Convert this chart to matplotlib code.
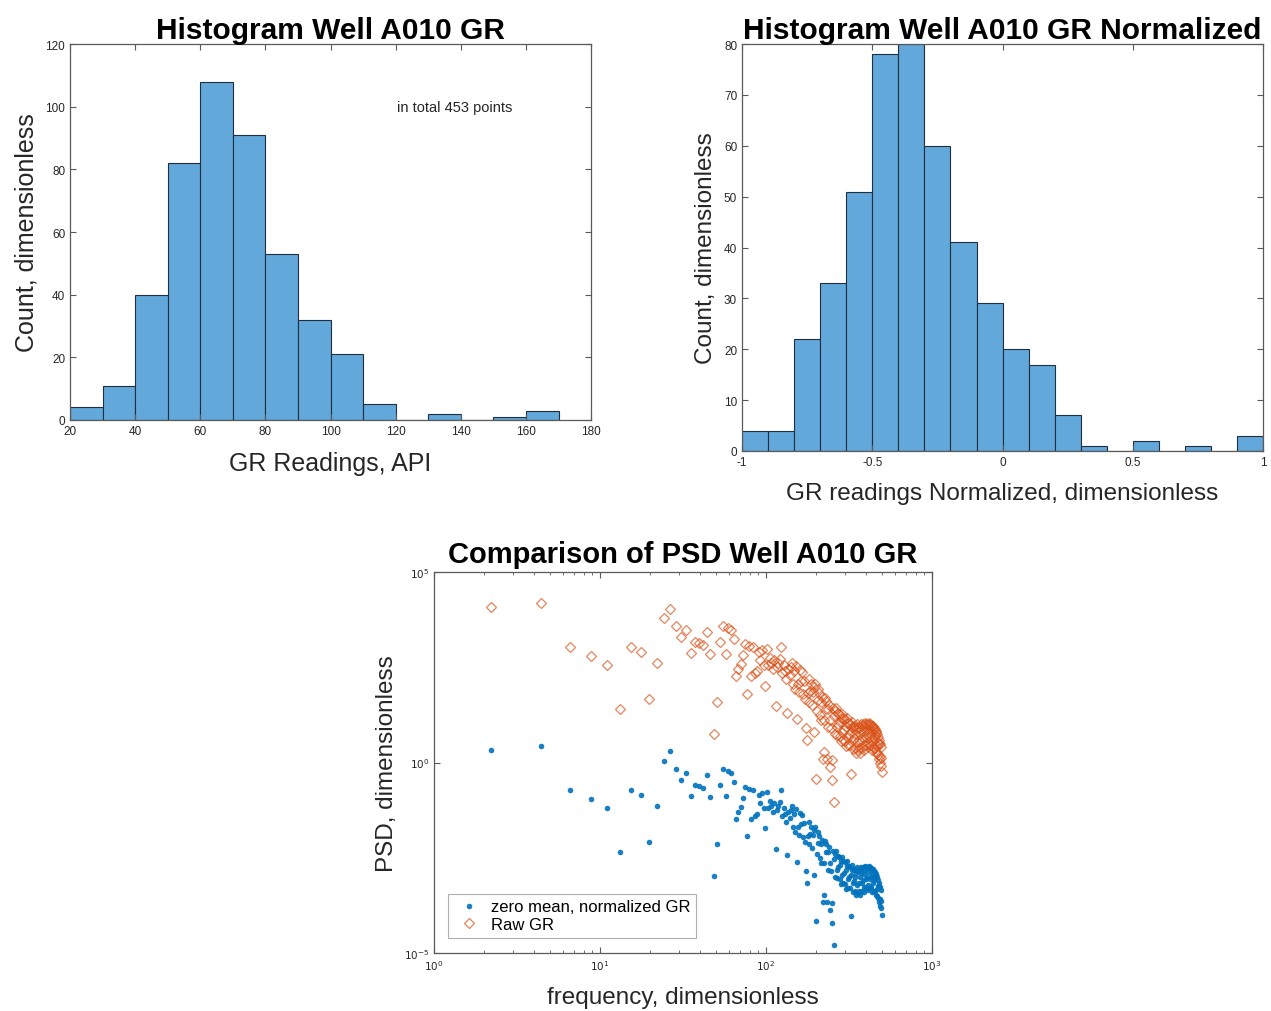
import numpy as np
import matplotlib
matplotlib.use("Agg")
import matplotlib.pyplot as plt
from matplotlib.ticker import FixedLocator, LogLocator, NullFormatter, FuncFormatter

plt.rcParams['font.family'] = ['Liberation Sans', 'DejaVu Sans']

# ---------------- data ----------------
# Histogram 1 : raw GR (API)
gr_bin_edges = [20, 30, 40, 50, 60, 70, 80, 90, 100, 110, 120, 130, 140, 150, 160, 170]
gr_counts = [4, 11, 40, 82, 108, 91, 53, 32, 21, 5, 0, 2, 0, 1, 3]

# Histogram 2 : normalized GR
grn_bin_edges = [-1.0, -0.9, -0.8, -0.7, -0.6, -0.5, -0.4, -0.3, -0.2, -0.1, 0.0,
                 0.1, 0.2, 0.3, 0.4, 0.5, 0.6, 0.7, 0.8, 0.9, 1.0]
grn_counts = [4, 4, 22, 33, 51, 78, 80, 60, 41, 29, 20, 17, 7, 1, 0, 2, 0, 1, 0, 3]

# PSD : frequency bins
freq = [2.2, 4.4, 6.6, 8.8, 11.0, 13.2, 15.4, 17.6, 19.8, 22.0,
        24.2, 26.4, 28.6, 30.8, 33.0, 35.2, 37.4, 39.6, 41.8, 44.0,
        46.2, 48.4, 50.6, 52.8, 55.0, 57.2, 59.4, 61.6, 63.8, 66.0,
        68.2, 70.4, 72.6, 74.8, 77.0, 79.2, 81.4, 83.6, 85.8, 88.0,
        90.2, 92.4, 94.6, 96.8, 99.0, 101.2, 103.4, 105.6, 107.8, 110.0,
        112.2, 114.4, 116.6, 118.8, 121.0, 123.2, 125.4, 127.6, 129.8, 132.0,
        134.2, 136.4, 138.6, 140.8, 143.0, 145.2, 147.4, 149.6, 151.8, 154.0,
        156.2, 158.4, 160.6, 162.8, 165.0, 167.2, 169.4, 171.6, 173.8, 176.0,
        178.2, 180.4, 182.6, 184.8, 187.0, 189.2, 191.4, 193.6, 195.8, 198.0,
        200.2, 202.4, 204.6, 206.8, 209.0, 211.2, 213.4, 215.6, 217.8, 220.0,
        222.2, 224.4, 226.6, 228.8, 231.0, 233.2, 235.4, 237.6, 239.8, 242.0,
        244.2, 246.4, 248.6, 250.8, 253.0, 255.2, 257.4, 259.6, 261.8, 264.0,
        266.2, 268.4, 270.6, 272.8, 275.0, 277.2, 279.4, 281.6, 283.8, 286.0,
        288.2, 290.4, 292.6, 294.8, 297.0, 299.2, 301.4, 303.6, 305.8, 308.0,
        310.2, 312.4, 314.6, 316.8, 319.0, 321.2, 323.4, 325.6, 327.8, 330.0,
        332.2, 334.4, 336.6, 338.8, 341.0, 343.2, 345.4, 347.6, 349.8, 352.0,
        354.2, 356.4, 358.6, 360.8, 363.0, 365.2, 367.4, 369.6, 371.8, 374.0,
        376.2, 378.4, 380.6, 382.8, 385.0, 387.2, 389.4, 391.6, 393.8, 396.0,
        398.2, 400.4, 402.6, 404.8, 407.0, 409.2, 411.4, 413.6, 415.8, 418.0,
        420.2, 422.4, 424.6, 426.8, 429.0, 431.2, 433.4, 435.6, 437.8, 440.0,
        442.2, 444.4, 446.6, 448.8, 451.0, 453.2, 455.4, 457.6, 459.8, 462.0,
        464.2, 466.4, 468.6, 470.8, 473.0, 475.2, 477.4, 479.6, 481.8, 484.0,
        486.2, 488.4, 490.6, 492.8, 495.0, 497.2]

# PSD of raw GR, log10 values
psd_raw_log10 = [4.07, 4.19, 3.03, 2.80, 2.56, 1.40, 3.04, 2.91, 1.66, 2.60,
                 3.80, 4.04, 3.57, 3.30, 3.47, 2.87, 3.17, 3.13, 3.08, 3.42,
                 2.85, 0.76, 1.60, 3.16, 3.59, 2.86, 3.54, 3.48, 3.25, 2.28,
                 2.46, 2.59, 2.81, 3.12, 1.81, 3.05, 2.27, 3.03, 2.35, 2.40,
                 2.90, 2.70, 2.94, 2.55, 2.02, 2.98, 2.55, 2.75, 2.60, 2.45,
                 2.68, 1.47, 2.50, 2.62, 2.72, 3.03, 2.35, 2.55, 2.40, 2.20,
                 1.31, 2.45, 2.30, 2.51, 2.62, 2.05, 2.40, 1.92, 2.52, 1.15,
                 2.07, 1.85, 2.43, 2.13, 2.37, 1.80, 2.15, 1.67, 0.90, 0.60,
                 1.82, 1.60, 2.18, 1.88, 2.07, 1.50, 1.85, 0.80, 1.97, 2.05,
                 -0.42, 1.35, 1.93, 1.63, 1.82, 1.25, 1.60, 1.12, 1.72, 0.09,
                 0.28, 1.12, 1.70, 1.40, 1.62, 0.10, 1.40, 0.92, 1.52, -0.12,
                 1.12, 0.90, 0.06, -0.46, 1.44, -1.03, 1.22, 0.74, 1.34, 1.42,
                 0.94, 0.72, 1.30, 1.00, 1.27, 0.70, 1.05, 0.57, 1.17, 1.28,
                 0.80, 0.58, 1.16, 0.86, 1.14, 0.57, 0.92, 0.44, 1.04, 1.16,
                 0.68, 0.46, 1.04, 0.74, 1.02, 0.45, 0.80, -0.29, 0.92, 1.06,
                 0.58, 0.36, 0.94, 0.64, 0.96, 0.39, 0.74, 0.26, 0.86, 1.00,
                 0.54, 0.32, 0.90, 0.60, 0.94, 0.39, 0.74, 0.26, 0.86, 1.02,
                 0.60, 0.38, 0.96, 0.66, 1.00, 0.47, 0.82, 0.34, 0.94, 1.04,
                 0.68, 0.46, 1.02, 0.74, 1.02, 0.53, 0.88, 0.40, 0.98, 1.04,
                 0.68, 0.46, 1.00, 0.74, 0.98, 0.47, 0.82, 0.34, 0.94, 0.96,
                 0.60, 0.38, 0.90, 0.66, 0.88, 0.37, 0.72, 0.28, 0.80, 0.82,
                 0.44, 0.24, 0.74, 0.50, 0.66, 0.20, 0.50, 0.10, 0.58, 0.48,
                 0.16, -0.02, 0.40, 0.12, -0.08, -0.25]

# PSD of zero-mean normalized GR, log10 values
psd_norm_log10 = [0.32, 0.44, -0.72, -0.95, -1.19, -2.35, -0.71, -0.84, -2.09, -1.15,
                  0.05, 0.29, -0.18, -0.45, -0.28, -0.88, -0.58, -0.62, -0.67, -0.33,
                  -0.90, -2.99, -2.15, -0.59, -0.16, -0.89, -0.21, -0.27, -0.50, -1.47,
                  -1.29, -1.16, -0.94, -0.63, -1.94, -0.70, -1.48, -0.72, -1.40, -1.35,
                  -0.85, -1.05, -0.81, -1.20, -1.73, -0.77, -1.20, -1.00, -1.15, -1.30,
                  -1.07, -2.28, -1.25, -1.13, -1.03, -0.72, -1.40, -1.20, -1.35, -1.55,
                  -2.44, -1.30, -1.45, -1.24, -1.13, -1.70, -1.35, -1.83, -1.23, -2.60,
                  -1.68, -1.90, -1.32, -1.62, -1.38, -1.95, -1.60, -2.08, -2.85, -3.15,
                  -1.93, -2.15, -1.57, -1.87, -1.68, -2.25, -1.90, -2.95, -1.78, -1.70,
                  -4.17, -2.40, -1.82, -2.12, -1.93, -2.50, -2.15, -2.63, -2.03, -3.66,
                  -3.47, -2.63, -2.05, -2.35, -2.13, -3.65, -2.35, -2.83, -2.23, -3.87,
                  -2.63, -2.85, -3.69, -4.21, -2.31, -4.78, -2.53, -3.01, -2.41, -2.33,
                  -2.81, -3.03, -2.45, -2.75, -2.48, -3.05, -2.70, -3.18, -2.58, -2.47,
                  -2.95, -3.17, -2.59, -2.89, -2.61, -3.18, -2.83, -3.31, -2.71, -2.59,
                  -3.07, -3.29, -2.71, -3.01, -2.73, -3.30, -2.95, -4.04, -2.83, -2.69,
                  -3.17, -3.39, -2.81, -3.11, -2.79, -3.36, -3.01, -3.49, -2.89, -2.75,
                  -3.21, -3.43, -2.85, -3.15, -2.81, -3.36, -3.01, -3.49, -2.89, -2.73,
                  -3.15, -3.37, -2.79, -3.09, -2.75, -3.28, -2.93, -3.41, -2.81, -2.71,
                  -3.07, -3.29, -2.73, -3.01, -2.73, -3.22, -2.87, -3.35, -2.77, -2.71,
                  -3.07, -3.29, -2.75, -3.01, -2.77, -3.28, -2.93, -3.41, -2.81, -2.79,
                  -3.15, -3.37, -2.85, -3.09, -2.87, -3.38, -3.03, -3.47, -2.95, -2.93,
                  -3.31, -3.51, -3.01, -3.25, -3.09, -3.55, -3.25, -3.65, -3.17, -3.27,
                  -3.59, -3.77, -3.35, -3.63, -3.83, -4.00]

# ---------------- styling ----------------
BAR_FACE = '#62A8DA'
BAR_EDGE = '#1f2f3f'
BLUE = '#0072BD'
ORANGE = '#D95319'
AX_COL = '#5a5a5a'
TXT = '#262626'


def style_axes(ax):
    for s in ax.spines.values():
        s.set_color(AX_COL)
        s.set_linewidth(0.9)
    ax.tick_params(which='both', direction='in', top=True, right=True,
                   colors=AX_COL, labelcolor=TXT, labelsize=8.5)
    ax.tick_params(which='major', length=4)
    ax.tick_params(which='minor', length=2.2)


fig = plt.figure(figsize=(12.71, 10.12), dpi=100)

TITLE_FS = 21.5
LABEL_FS = 17.5

# ---- Histogram 1 ----
ax1 = fig.add_axes([0.0551, 0.584, 0.410, 0.3715])
ax1.bar(gr_bin_edges[:-1], gr_counts, width=np.diff(gr_bin_edges), align='edge',
        color=BAR_FACE, edgecolor=BAR_EDGE, linewidth=0.8)
ax1.set_xlim(20, 180)
ax1.set_ylim(0, 120)
ax1.set_xticks([20, 40, 60, 80, 100, 120, 140, 160, 180])
ax1.set_yticks([0, 20, 40, 60, 80, 100, 120])
style_axes(ax1)
ax1.set_title('Histogram Well A010 GR', fontsize=TITLE_FS, fontweight='bold', color='black', pad=4)
ax1.set_xlabel('GR Readings, API', fontsize=18, color=TXT, labelpad=10)
ax1.set_ylabel('Count, dimensionless', fontsize=18, color=TXT, labelpad=5)
ax1.text(120.5, 100, 'in total 453 points', fontsize=10.5, color=TXT, va='center', ha='left')

# ---- Histogram 2 ----
ax2 = fig.add_axes([0.5838, 0.5534, 0.410, 0.402])
ax2.bar(grn_bin_edges[:-1], grn_counts, width=np.diff(grn_bin_edges), align='edge',
        color=BAR_FACE, edgecolor=BAR_EDGE, linewidth=0.8)
ax2.set_xlim(-1, 1)
ax2.set_ylim(0, 80)
ax2.set_xticks([-1, -0.5, 0, 0.5, 1])
ax2.set_xticklabels(['-1', '-0.5', '0', '0.5', '1'])
ax2.set_yticks([0, 10, 20, 30, 40, 50, 60, 70, 80])
style_axes(ax2)
ax2.set_title('Histogram Well A010 GR Normalized', fontsize=TITLE_FS, fontweight='bold',
              color='black', pad=3)
ax2.set_xlabel('GR readings Normalized, dimensionless', fontsize=LABEL_FS, color=TXT, labelpad=10)
ax2.set_ylabel('Count, dimensionless', fontsize=LABEL_FS, color=TXT, labelpad=5)

# ---- PSD comparison ----
ax3 = fig.add_axes([0.3415, 0.0573, 0.3918, 0.3765])
f = np.array(freq)
ax3.loglog(f, 10 ** np.array(psd_norm_log10), linestyle='none', marker='o',
           markersize=4.0, color=BLUE, markeredgewidth=0, alpha=0.9,
           label='zero mean, normalized GR')
ax3.loglog(f, 10 ** np.array(psd_raw_log10), linestyle='none', marker='D',
           markersize=4.6, markerfacecolor='none', markeredgecolor=ORANGE,
           markeredgewidth=0.9, alpha=0.7, label='Raw GR')
ax3.set_xlim(1, 1000)
ax3.set_ylim(1e-5, 1e5)
ax3.yaxis.set_major_locator(FixedLocator([1e-5, 1e0, 1e5]))
ax3.yaxis.set_minor_locator(FixedLocator([]))
ax3.xaxis.set_major_locator(FixedLocator([1, 10, 100, 1000]))
ax3.xaxis.set_minor_locator(LogLocator(base=10, subs=np.arange(2, 10)))
ax3.xaxis.set_minor_formatter(NullFormatter())
fmt = FuncFormatter(lambda v, p: r'$10^{%d}$' % int(round(np.log10(v))))
ax3.xaxis.set_major_formatter(fmt)
ax3.yaxis.set_major_formatter(fmt)
style_axes(ax3)
ax3.tick_params(labelsize=7.5)
ax3.set_title('Comparison of PSD Well A010 GR', fontsize=TITLE_FS - 0.5, fontweight='bold',
              color='black', pad=7)
ax3.set_xlabel('frequency, dimensionless', fontsize=LABEL_FS, color=TXT, labelpad=10)
ax3.set_ylabel('PSD, dimensionless', fontsize=LABEL_FS, color=TXT, labelpad=4)
leg = ax3.legend(loc='lower left', fontsize=12, frameon=True, fancybox=False,
                 edgecolor='#9a9a9a', handletextpad=0.4, borderpad=0.35,
                 labelspacing=0.15, handlelength=1.8, bbox_to_anchor=(0.012, 0.018))
leg.get_frame().set_linewidth(0.8)

fig.savefig('out.png', dpi=100, facecolor='white')
